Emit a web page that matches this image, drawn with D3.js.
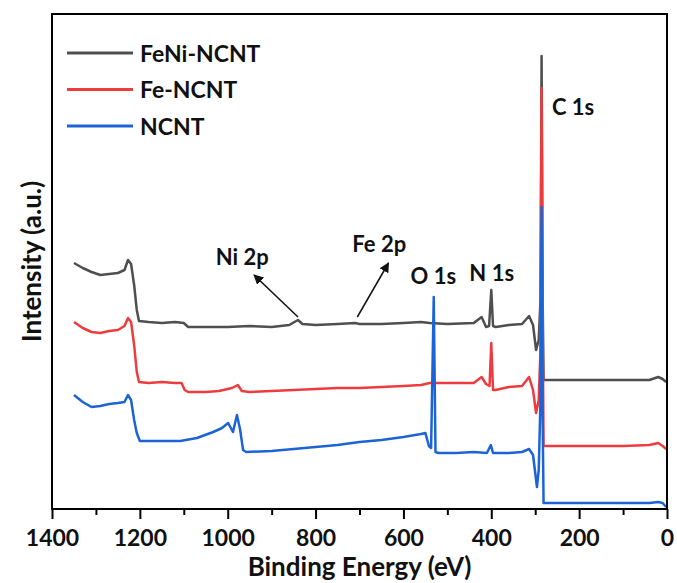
<!DOCTYPE html>
<html>
<head>
<meta charset="utf-8">
<script src="https://cdn.jsdelivr.net/npm/d3@7"></script>
<style>
  body { margin: 0; background: #fff; }
  text { font-family: Lato, "Open Sans", sans-serif; font-weight: bold; }
</style>
</head>
<body>
<div id="chart"></div>
<script>
// binding energy (eV) and intensity (a.u.)
const seriesNames = ["FeNi-NCNT", "Fe-NCNT", "NCNT"];
const seriesColors = ["#4f4f4f", "#ee3c3e", "#1c64d6"];

const feniData = [
  [1350, 246], [1330, 241], [1310, 237], [1290, 234], [1270, 235], [1250, 236],
  [1235, 239], [1227, 249], [1220, 245], [1213, 224], [1207, 199], [1202, 188],
  [1180, 187], [1150, 186], [1120, 187], [1100, 186], [1090, 182], [1050, 182],
  [1000, 182], [950, 183], [900, 182], [860, 184], [840, 189], [830, 185],
  [800, 184], [750, 185], [710, 186], [700, 185], [650, 185], [600, 186],
  [560, 187], [540, 186], [500, 185], [440, 186], [422, 192], [412, 182],
  [405, 183], [400, 219], [396, 183], [390, 182], [360, 184], [330, 185],
  [314, 193], [305, 184], [298, 159], [292, 169], [288, 209], [285.5, 453],
  [283, 209], [281, 129], [278, 129], [200, 129], [100, 129], [40, 129],
  [20, 132], [10, 130], [2, 127]
];

const feData = [
  [1350, 187], [1330, 181], [1310, 177], [1290, 176], [1270, 178], [1250, 179],
  [1235, 183], [1227, 191], [1220, 187], [1213, 164], [1207, 137], [1202, 127],
  [1180, 126], [1150, 127], [1120, 126], [1105, 126], [1098, 119], [1090, 117],
  [1050, 117], [1020, 118], [990, 121], [977, 124], [968, 118], [950, 117],
  [900, 118], [850, 119], [800, 120], [750, 121], [700, 121], [650, 122],
  [600, 123], [560, 124], [540, 126], [500, 126], [440, 126], [422, 132],
  [412, 125], [404, 123], [400, 166], [396, 119], [390, 119], [360, 122],
  [330, 123], [314, 132], [305, 119], [298, 96], [292, 109], [288, 159],
  [285.5, 421], [283, 179], [281, 64], [278, 63], [200, 63], [100, 63],
  [40, 64], [20, 66], [10, 63], [2, 60]
];

const ncntData = [
  [1350, 114], [1330, 107], [1310, 102], [1290, 103], [1270, 105], [1250, 106],
  [1235, 107], [1227, 114], [1220, 109], [1213, 89], [1207, 76], [1200, 68],
  [1140, 68], [1108, 68], [1070, 71], [1033, 77], [1013, 81], [999, 86],
  [988, 77], [979, 94], [972, 80], [965, 59], [958, 57], [900, 58], [850, 60],
  [800, 62], [750, 64], [700, 67], [650, 69], [600, 72], [560, 75], [550, 76],
  [542, 63], [537, 61], [531, 212], [527, 57], [520, 56], [480, 56], [440, 57],
  [410, 56], [401, 64], [396, 56], [360, 56], [330, 57], [314, 60], [305, 54],
  [296, 22], [292, 39], [288, 109], [285.5, 302], [283, 89], [281, 6],
  [278, 6], [200, 6], [100, 6], [40, 6], [20, 7], [10, 6], [2, 2]
];

const majorTicks = [1400, 1200, 1000, 800, 600, 400, 200, 0];
const minorTicks = [1300, 1100, 900, 700, 500, 300, 100];

// peak labels: text, energy, intensity where the label sits
const peakLabels = [
  { text: "C 1s", e: 262, i: 394 },
  { text: "N 1s", e: 399, i: 228 },
  { text: "O 1s", e: 532, i: 225 },
  { text: "Fe 2p", e: 655, i: 257 },
  { text: "Ni 2p", e: 967, i: 244 }
];
// arrows: from energy/intensity on the curve to the label
const arrows = [
  { e1: 840, i1: 192, e2: 940, i2: 234 },
  { e1: 705, i1: 192, e2: 634, i2: 246 }
];

const width = 677, height = 583;
const margin = { top: 14, right: 10, bottom: 74, left: 52 };

const svg = d3.select("#chart").append("svg")
  .attr("width", width)
  .attr("height", height);

const x = d3.scaleLinear()
  .domain([1400, 0])
  .range([margin.left, width - margin.right]);

const y = d3.scaleLinear()
  .domain([0, 495])
  .range([height - margin.bottom, margin.top]);

const line = d3.line()
  .x(d => x(d[0]))
  .y(d => y(d[1]));

const allSeries = [feniData, feData, ncntData];

// gray first, blue last so the lower spikes sit on top like the original
allSeries.forEach((s, k) => {
  svg.append("path")
    .datum(s)
    .attr("fill", "none")
    .attr("stroke", seriesColors[k])
    .attr("stroke-width", 2.5)
    .attr("stroke-linejoin", "round")
    .attr("d", line);
});

// frame
svg.append("rect")
  .attr("x", margin.left)
  .attr("y", margin.top)
  .attr("width", width - margin.left - margin.right)
  .attr("height", height - margin.top - margin.bottom)
  .attr("fill", "none")
  .attr("stroke", "#000")
  .attr("stroke-width", 2);

// bottom axis
const axisG = svg.append("g")
  .attr("transform", "translate(0," + (height - margin.bottom) + ")")
  .call(d3.axisBottom(x).tickValues(majorTicks).tickSize(10).tickFormat(d3.format("d")));
axisG.select(".domain").remove();
axisG.selectAll("line").attr("stroke-width", 2);
axisG.selectAll("text")
  .attr("y", 37).attr("dy", 0)
  .attr("fill", "#111")
  .style("font-size", "23px");

const minorG = svg.append("g")
  .attr("transform", "translate(0," + (height - margin.bottom) + ")")
  .call(d3.axisBottom(x).tickValues(minorTicks).tickSize(6).tickFormat(""));
minorG.select(".domain").remove();
minorG.selectAll("line").attr("stroke-width", 2);

// axis titles
svg.append("text")
  .attr("x", (margin.left + width - margin.right) / 2)
  .attr("y", 576)
  .attr("text-anchor", "middle")
  .attr("fill", "#111")
  .style("font-size", "26px")
  .text("Binding Energy (eV)");

svg.append("text")
  .attr("transform", "translate(41," + (margin.top + height - margin.bottom) / 2 + ") rotate(-90)")
  .attr("text-anchor", "middle")
  .attr("fill", "#111")
  .style("font-size", "26px")
  .text("Intensity (a.u.)");

// legend
const legend = svg.append("g");
seriesNames.forEach((name, k) => {
  const ly = 53 + k * 36.5;
  legend.append("line")
    .attr("x1", 67).attr("x2", 133)
    .attr("y1", ly).attr("y2", ly)
    .attr("stroke", seriesColors[k])
    .attr("stroke-width", 3);
  legend.append("text")
    .attr("x", 140).attr("y", ly + 8.5)
    .attr("fill", "#111")
    .style("font-size", "23px")
    .text(name);
});

// peak annotations
svg.selectAll(".peak")
  .data(peakLabels)
  .enter().append("text")
  .attr("class", "peak")
  .attr("x", d => x(d.e))
  .attr("y", d => y(d.i))
  .attr("text-anchor", d => d.text === "C 1s" ? "start" : "middle")
  .attr("fill", "#111")
  .style("font-size", "22px")
  .text(d => d.text);

svg.append("defs").append("marker")
  .attr("id", "arrow")
  .attr("viewBox", "0 0 10 10")
  .attr("refX", 9).attr("refY", 5)
  .attr("markerWidth", 10).attr("markerHeight", 10)
  .attr("markerUnits", "userSpaceOnUse")
  .attr("orient", "auto")
  .append("path")
  .attr("d", "M0,0 L10,5 L0,10 z")
  .attr("fill", "#111");

svg.selectAll(".arrow")
  .data(arrows)
  .enter().append("line")
  .attr("class", "arrow")
  .attr("x1", d => x(d.e1)).attr("y1", d => y(d.i1))
  .attr("x2", d => x(d.e2)).attr("y2", d => y(d.i2))
  .attr("stroke", "#111")
  .attr("stroke-width", 1.5)
  .attr("marker-end", "url(#arrow)");
</script>
</body>
</html>
